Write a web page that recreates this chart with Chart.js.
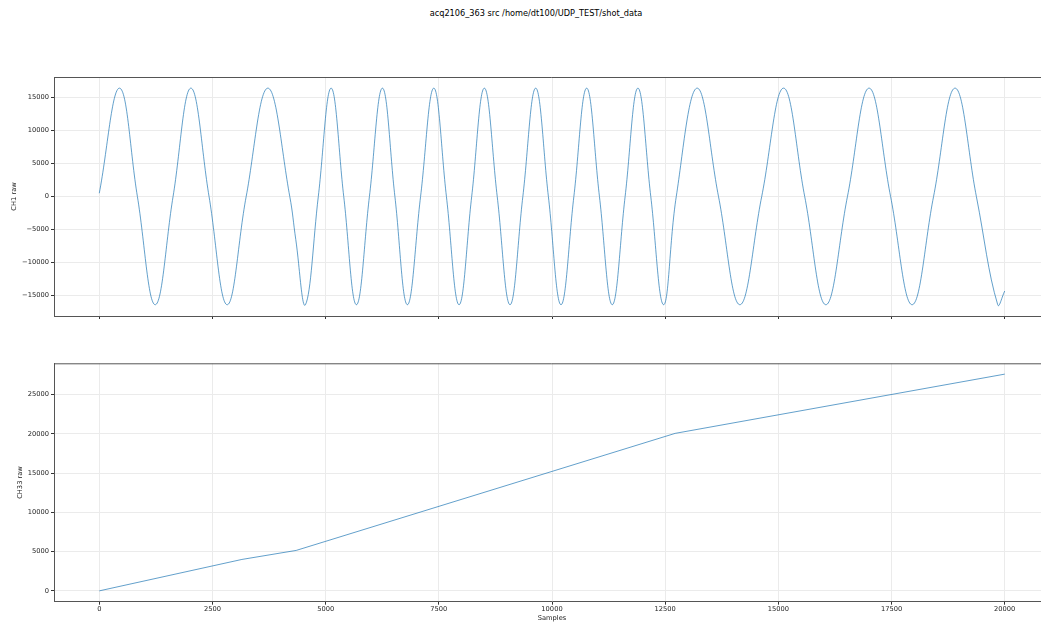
<!DOCTYPE html>
<html>
<head>
<meta charset="utf-8">
<script src="https://cdn.jsdelivr.net/npm/chart.js@4/dist/chart.umd.min.js"></script>
<style>
  body { margin: 0; background: #fff; overflow: hidden; width: 1041px; height: 623px; }
  #title { position: absolute; left: 0; top: 8px; width: 1072px; text-align: center;
           font: 8.2px 'DejaVu Sans', sans-serif; color: #000; line-height: 10px; }
  canvas { position: absolute; left: 0; }
  #ch1 { top: 0; }
  #ch33 { top: 340px; }
</style>
</head>
<body>
<div id="title">acq2106_363 src /home/dt100/UDP_TEST/shot_data</div>
<canvas id="ch1" width="1052" height="340"></canvas>
<canvas id="ch33" width="1052" height="283"></canvas>
<script>
// CH1: extrema and zero crossings (sample, raw value)
const ch1Samples = [
  0, 448, 842, 1236, 1630, 2024, 2425, 2826, 3245, 3724, 4208, 4340, 4554,
  4838, 5121, 5400, 5680, 5967, 6254, 6530, 6806, 7097, 7389, 7668, 7947,
  8226, 8506, 8790, 9073, 9356, 9640, 9920, 10199, 10483, 10766, 11048, 11331,
  11615, 11898, 12182, 12466, 12745, 13207, 13678, 14150, 14632, 15115, 15582,
  16049, 16526, 17004, 17479, 17954, 18428, 18903, 19374, 19845, 20000
];
const ch1Values = [
  500, 16450, 0, -16420, 0, 16450, 0, -16420, 0, 16450, 0, -6500, -16420,
  0, 16450, 0, -16420, 0, 16450, 0, -16420, 0, 16450, 0, -16420,
  0, 16450, 0, -16420, 0, 16450, 0, -16420, 0, 16450, 0, -16420,
  0, 16450, 0, -16420, 0, 16450, 0, -16420, 0, 16450, 0,
  -16420, 0, 16450, 0, -16420, 0, 16450, 0, -16420, -14340
];

// CH33: straight segments between the visible kinks
const ch33Samples = [0, 3150, 4350, 12720, 20000];
const ch33Values = [0, 4000, 5150, 20050, 27590];

const xTicks = [0, 2500, 5000, 7500, 10000, 12500, 15000, 17500, 20000];
const ch1Ticks = [-15000, -10000, -5000, 0, 5000, 10000, 15000];
const ch33Ticks = [0, 5000, 10000, 15000, 20000, 25000];

const font = { family: "'DejaVu Sans', sans-serif", size: 6.7 };
const gridColor = '#ebebeb';
const spineColor = '#555';
const lineColor = '#1f77b4';

function fmt(v) {
  return v < 0 ? '\u2212' + Math.abs(v) : String(v);
}

const frame = {
  id: 'frame',
  afterDraw(chart) {
    const { ctx, chartArea: a } = chart;
    ctx.save();
    ctx.strokeStyle = spineColor;
    ctx.lineWidth = 1;
    ctx.beginPath();
    ctx.moveTo(a.left, a.top + 0.5);
    ctx.lineTo(a.right - 0.5, a.top + 0.5);
    ctx.lineTo(a.right - 0.5, a.bottom);
    ctx.stroke();
    ctx.restore();
  }
};

function makeChart(id, samples, values, yTicks, yMin, yMax, opts) {
  const pts = samples.map((s, i) => ({ x: s, y: values[i] }));
  return new Chart(document.getElementById(id), {
    type: 'line',
    data: {
      datasets: [{
        data: pts,
        borderColor: lineColor,
        borderWidth: 0.7,
        pointRadius: 0,
        fill: false,
        tension: opts.tension
      }]
    },
    options: {
      responsive: false,
      animation: false,
      devicePixelRatio: 1,
      layout: { padding: { top: opts.padTop, left: 0, right: 2, bottom: 0 } },
      plugins: { legend: { display: false }, tooltip: { enabled: false } },
      scales: {
        x: {
          type: 'linear',
          min: -1000,
          max: 21000,
          afterBuildTicks: axis => { axis.ticks = xTicks.map(v => ({ value: v })); },
          afterFit: axis => { axis.height = opts.xHeight; },
          grid: { color: gridColor, tickColor: '#333', tickLength: 3, lineWidth: 1 },
          border: { color: spineColor, width: 1 },
          ticks: {
            display: opts.xLabels,
            font: font, color: '#222', padding: 1, maxRotation: 0,
            callback: v => String(v)
          },
          title: {
            display: opts.xLabels,
            text: 'Samples',
            font: font, color: '#222',
            padding: { top: 0, bottom: 0.5 }
          }
        },
        y: {
          type: 'linear',
          min: yMin,
          max: yMax,
          afterBuildTicks: axis => { axis.ticks = yTicks.map(v => ({ value: v })); },
          afterFit: axis => { axis.width = 54; },
          grid: { color: gridColor, tickColor: '#333', tickLength: 3, lineWidth: 1 },
          border: { color: spineColor, width: 1 },
          ticks: { font: font, color: '#222', padding: 2, callback: v => fmt(v) },
          title: {
            display: true,
            text: opts.yTitle,
            font: font, color: '#222',
            padding: { top: opts.yTitlePad, bottom: 0 }
          }
        }
      }
    },
    plugins: [frame]
  });
}

makeChart('ch1', ch1Samples, ch1Values, ch1Ticks, -18130, 18140, {
  tension: 0.4, padTop: 77, xHeight: 24, xLabels: false,
  yTitle: 'CH1 raw', yTitlePad: 10.2
});

makeChart('ch33', ch33Samples, ch33Values, ch33Ticks, -1380, 28970, {
  tension: 0, padTop: 23.3, xHeight: 21.3, xLabels: true,
  yTitle: 'CH33 raw', yTitlePad: 16
});
</script>
</body>
</html>
